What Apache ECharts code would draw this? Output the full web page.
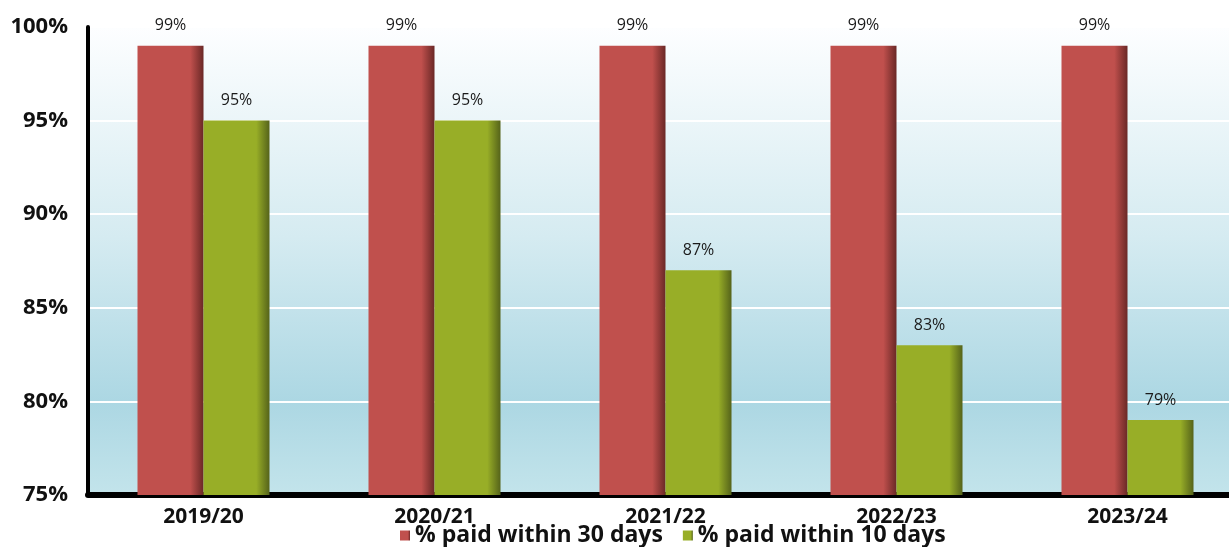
<!DOCTYPE html>
<html><head><meta charset="utf-8">
<script src="https://cdn.jsdelivr.net/npm/echarts@6/dist/echarts.min.js"></script>
<style>html,body{margin:0;padding:0;background:#fff}#c{width:1229px;height:547px}</style>
</head><body><div id="c"></div>
<script>
const categories = ['2019/20','2020/21','2021/22','2022/23','2023/24'];
const paid30 = [99, 99, 99, 99, 99];
const paid10 = [95, 95, 87, 83, 79];
const yTicks = [75, 80, 85, 90, 95, 100];
const seriesNames = ['% paid within 30 days', '% paid within 10 days'];

const FONT = '"Open Sans", "Noto Sans", sans-serif';
function grad(main, dark) {
  return new echarts.graphic.LinearGradient(0, 0, 1, 0, [
    {offset: 0, color: main}, {offset: 0.8, color: main}, {offset: 1, color: dark}
  ]);
}
const redFill = grad('#c0504d', '#6a2826');
const greenFill = grad('#98ae27', '#55631a');

const chart = echarts.init(document.getElementById('c'));
chart.setOption({
  animation: false,
  textStyle: {fontFamily: FONT},
  grid: {
    left: 88, width: 1155, top: 27, bottom: 52, show: true, borderWidth: 0,
    outerBoundsMode: 'none', containLabel: false,
    backgroundColor: new echarts.graphic.LinearGradient(0, 0, 0, 1, [
      {offset: 0, color: '#fdfeff'},
      {offset: 0.45, color: '#d5ebf1'},
      {offset: 0.8, color: '#acd7e3'},
      {offset: 1, color: '#c3e4eb'}
    ])
  },
  legend: {
    data: seriesNames, top: 519, left: 395,
    icon: 'rect', itemWidth: 10, itemHeight: 10, itemGap: 20,
    textStyle: {fontFamily: FONT, fontWeight: 'bold', fontSize: 23, color: '#111'}
  },
  xAxis: {
    type: 'category', data: categories,
    axisLine: {lineStyle: {color: '#000', width: 6}},
    axisTick: {show: false},
    axisLabel: {fontFamily: FONT, fontWeight: 'bold', fontSize: 21, color: '#111', margin: 12}
  },
  yAxis: {
    type: 'value', min: yTicks[0], max: yTicks[yTicks.length - 1], interval: 5,
    axisLine: {show: true, lineStyle: {color: '#000', width: 4}},
    axisTick: {show: false},
    splitLine: {lineStyle: {color: '#ffffff', width: 2}},
    axisLabel: {fontFamily: FONT, fontWeight: 'bold', fontSize: 22, color: '#111', margin: 20,
      formatter: v => v + '%'}
  },
  series: [
    {name: seriesNames[0], type: 'bar', data: paid30, barWidth: 66, barGap: '0%',
     itemStyle: {color: redFill},
     label: {show: true, position: 'top', distance: 12, formatter: '{c}%',
       fontFamily: FONT, fontSize: 16, color: '#1a1a1a'}},
    {name: seriesNames[1], type: 'bar', data: paid10, barWidth: 66, barGap: '0%',
     itemStyle: {color: greenFill},
     label: {show: true, position: 'top', distance: 12, formatter: '{c}%',
       fontFamily: FONT, fontSize: 16, color: '#1a1a1a'}}
  ]
});
</script></body></html>
